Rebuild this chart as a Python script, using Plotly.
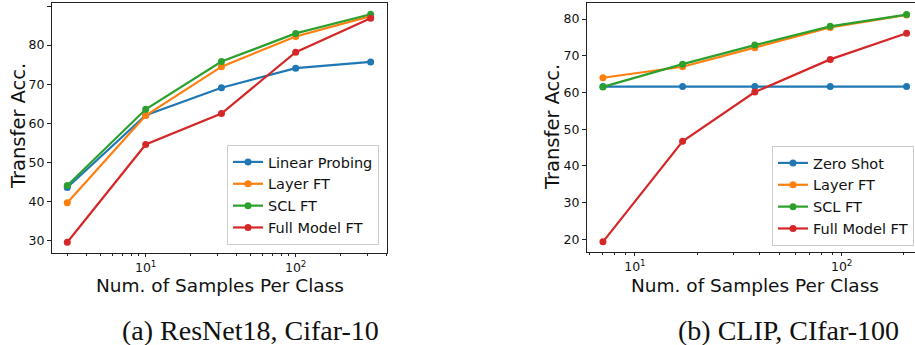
import plotly.graph_objects as go

# ---- data ----
x_a = [3, 10, 32, 100, 316]
linear_probing = [43.6, 62.1, 69.1, 74.1, 75.7]
layer_ft_a = [39.7, 62.0, 74.5, 82.2, 87.4]
scl_ft_a = [44.1, 63.6, 75.8, 83.0, 87.9]
full_ft_a = [29.6, 54.6, 62.5, 78.2, 86.9]

x_b = [7, 17, 38, 88, 206]
zero_shot = [61.6, 61.6, 61.6, 61.6, 61.6]
layer_ft_b = [64.0, 67.0, 72.2, 77.7, 81.1]
scl_ft_b = [61.5, 67.7, 72.9, 78.0, 81.2]
full_ft_b = [19.3, 46.7, 60.1, 69.0, 76.1]

names_a = ["Linear Probing", "Layer FT", "SCL FT", "Full Model FT"]
names_b = ["Zero Shot", "Layer FT", "SCL FT", "Full Model FT"]
colors = ["#1f77b4", "#ff7f0e", "#2ca02c", "#d62728"]
yticks_a = [30, 40, 50, 60, 70, 80, 90]
yticks_b = [20, 30, 40, 50, 60, 70, 80]
xticks = [10, 100]
xticktext = ["10<sup>1</sup>", "10<sup>2</sup>"]
minor_a = [3, 4, 5, 6, 7, 8, 9, 20, 30, 40, 50, 60, 70, 80, 90, 200, 300, 400]
minor_b = [6, 7, 8, 9, 20, 30, 40, 50, 60, 70, 80, 90, 200]
caption_a = "(a) ResNet18, Cifar-10"
caption_b = "(b) CLIP, CIfar-100"
xtitle = "Num. of Samples Per Class"
ytitle = "Transfer Acc."

W, H = 915, 345
FONT = "DejaVu Sans"

fig = go.Figure()

for ys, nm, c in zip([linear_probing, layer_ft_a, scl_ft_a, full_ft_a], names_a, colors):
    fig.add_trace(go.Scatter(x=x_a, y=ys, name=nm, mode="lines+markers",
                             line=dict(color=c, width=2.2), marker=dict(color=c, size=7),
                             xaxis="x", yaxis="y", legend="legend"))
for ys, nm, c in zip([zero_shot, layer_ft_b, scl_ft_b, full_ft_b], names_b, colors):
    fig.add_trace(go.Scatter(x=x_b, y=ys, name=nm, mode="lines+markers",
                             line=dict(color=c, width=2.2), marker=dict(color=c, size=7),
                             xaxis="x2", yaxis="y2", legend="legend2"))

def px(v):
    return v / W

def py(v):
    return (H - v) / H

base_axis = dict(showgrid=False, zeroline=False, showline=True, linecolor="#222",
                 linewidth=1, ticks="outside", tickcolor="#222",
                 tickfont=dict(family=FONT, size=12.5, color="#111"))
x_axis_common = dict(base_axis, ticklen=3)
y_axis_common = dict(base_axis, ticklen=4)

minor_common = dict(ticks="outside", ticklen=2, tickcolor="#222", showgrid=False)

fig.update_layout(
    width=W, height=H, margin=dict(l=0, r=0, t=0, b=0),
    paper_bgcolor="white", plot_bgcolor="white",
    xaxis=dict(type="log", domain=[px(52), px(387)], range=[0.3753, 2.6087],
               tickvals=xticks, ticktext=xticktext, anchor="y", mirror=True,
               minor=dict(tickvals=minor_a, **minor_common), **x_axis_common),
    yaxis=dict(domain=[py(253), py(3)], range=[26.85, 90.77], tickvals=yticks_a,
               anchor="x", mirror=True, **y_axis_common),
    xaxis2=dict(type="log", domain=[px(587), 1.0], range=[0.768, 2.3546],
                tickvals=xticks, ticktext=xticktext, anchor="y2", mirror=True,
                minor=dict(tickvals=minor_b, **minor_common), **x_axis_common),
    yaxis2=dict(domain=[py(252), py(3)], range=[16.54, 84.36], tickvals=yticks_b,
                anchor="x2", mirror=False, **y_axis_common),
    legend=dict(x=px(379), y=py(245), xanchor="right", yanchor="bottom",
                bgcolor="rgba(255,255,255,0.85)", bordercolor="#cccccc", borderwidth=1,
                font=dict(family=FONT, size=14.5, color="#111")),
    legend2=dict(x=px(914), y=py(246), xanchor="right", yanchor="bottom",
                 bgcolor="rgba(255,255,255,0.85)", bordercolor="#cccccc", borderwidth=1,
                 font=dict(family=FONT, size=14.5, color="#111")),
    showlegend=True,
)

ann = []
ann.append(dict(text=xtitle, x=px(219.5), y=py(285.5), xref="paper", yref="paper",
                showarrow=False, xanchor="center", yanchor="middle",
                font=dict(family=FONT, size=18.5, color="#111")))
ann.append(dict(text=xtitle, x=px(755), y=py(285.5), xref="paper", yref="paper",
                showarrow=False, xanchor="center", yanchor="middle",
                font=dict(family=FONT, size=18.5, color="#111")))
ann.append(dict(text=ytitle, x=px(18), y=py(126), xref="paper", yref="paper",
                showarrow=False, xanchor="center", yanchor="middle", textangle=-90,
                font=dict(family=FONT, size=19.5, color="#111")))
ann.append(dict(text=ytitle, x=px(553), y=py(127), xref="paper", yref="paper",
                showarrow=False, xanchor="center", yanchor="middle", textangle=-90,
                font=dict(family=FONT, size=19.5, color="#111")))
ann.append(dict(text=caption_a, x=px(250), y=py(330), xref="paper", yref="paper",
                showarrow=False, xanchor="center", yanchor="middle",
                font=dict(family="Liberation Serif", size=28, color="#111")))
ann.append(dict(text=caption_b, x=px(788), y=py(330), xref="paper", yref="paper",
                showarrow=False, xanchor="center", yanchor="middle",
                font=dict(family="Liberation Serif", size=28, color="#111")))
fig.update_layout(annotations=ann)

fig.write_html("out.html")
